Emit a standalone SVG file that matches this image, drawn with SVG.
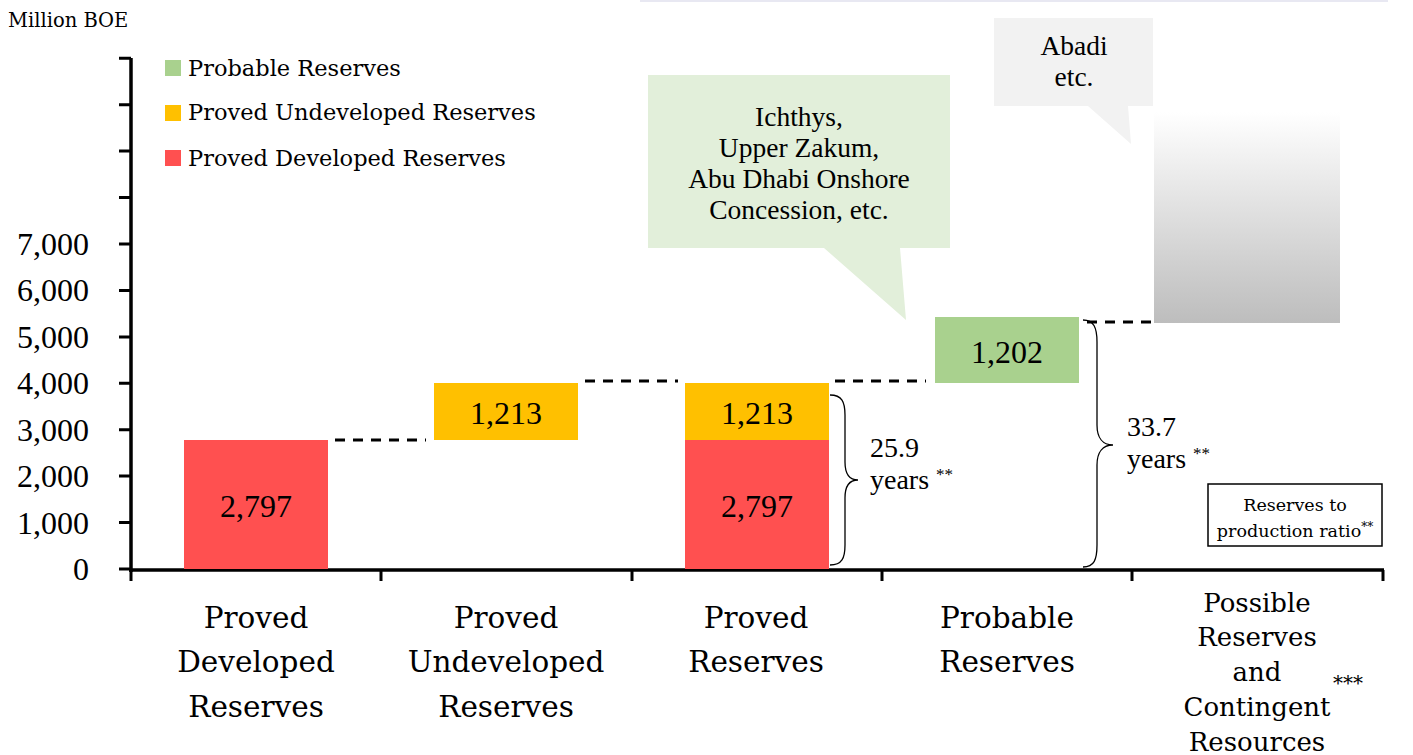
<svg xmlns="http://www.w3.org/2000/svg" width="1413" height="755" viewBox="0 0 1413 755">
<defs>
<linearGradient id="grayGrad" x1="0" y1="0" x2="0" y2="1">
<stop offset="0" stop-color="#ffffff"/>
<stop offset="1" stop-color="#bdbdbd"/>
</linearGradient>
<style>
.axis{stroke:#000;stroke-width:3.5;fill:none}
.tick{stroke:#000;stroke-width:3;fill:none}
.num{font-family:"Liberation Serif","Times New Roman",serif;font-size:32px;fill:#000}
.ylab{font-family:"Liberation Serif","Times New Roman",serif;font-size:32px;fill:#000;text-anchor:end}
.cat{font-family:"DejaVu Serif",serif;font-size:29.5px;fill:#000;text-anchor:middle}
.cat2{font-family:"DejaVu Serif",serif;font-size:26px;fill:#000;text-anchor:middle}
.leg{font-family:"DejaVu Serif",serif;font-size:22.5px;fill:#000}
.call{font-family:"Liberation Serif","Times New Roman",serif;font-size:27.5px;fill:#000;text-anchor:middle}
.yrs{font-family:"Liberation Serif","Times New Roman",serif;font-size:28px;fill:#000}
.box{font-family:"DejaVu Serif",serif;font-size:17.5px;fill:#000;text-anchor:middle}
.dash{stroke:#000;stroke-width:3;stroke-dasharray:10 8;fill:none}
.brace{stroke:#000;stroke-width:1.3;fill:none}
.red{fill:#ff5050}.yel{fill:#ffc000}.grn{fill:#a9d18e}
</style>
</defs>
<rect width="1413" height="755" fill="#ffffff"/>
<line x1="640" y1="1" x2="1388" y2="1" stroke="#e8e8f2" stroke-width="2"/>

<text x="8" y="27" font-family="DejaVu Serif, serif" font-size="19.5" fill="#000">Million BOE</text>

<g id="legend">
<rect class="grn" x="165" y="60" width="16" height="16"/>
<text class="leg" x="188" y="76">Probable Reserves</text>
<rect class="yel" x="165" y="105" width="16" height="16"/>
<text class="leg" x="188" y="120">Proved Undeveloped Reserves</text>
<rect class="red" x="165" y="150" width="16" height="16"/>
<text class="leg" x="188" y="166">Proved Developed Reserves</text>
</g>

<g id="axes">
<line class="axis" x1="131" y1="58" x2="131" y2="572"/>
<line class="axis" x1="129" y1="570" x2="1384" y2="570"/>
<path class="tick" d="M119,58.3H131M119,104.7H131M119,151.1H131M119,197.6H131M119,244H131M119,290.4H131M119,336.9H131M119,383.3H131M119,429.7H131M119,476.1H131M119,522.6H131M119,569H131"/>
<path class="tick" d="M131,570V581M381,570V581M632,570V581M882,570V581M1132,570V581M1383,570V581"/>
<text class="ylab" x="89" y="255">7,000</text>
<text class="ylab" x="89" y="301">6,000</text>
<text class="ylab" x="89" y="348">5,000</text>
<text class="ylab" x="89" y="394">4,000</text>
<text class="ylab" x="89" y="441">3,000</text>
<text class="ylab" x="89" y="487">2,000</text>
<text class="ylab" x="89" y="534">1,000</text>
<text class="ylab" x="89" y="580">0</text>
</g>

<g id="cat-labels">
<text class="cat" x="256" y="628">Proved</text>
<text class="cat" x="256" y="672">Developed</text>
<text class="cat" x="256" y="717">Reserves</text>
<text class="cat" x="506" y="628">Proved</text>
<text class="cat" x="506" y="672">Undeveloped</text>
<text class="cat" x="506" y="717">Reserves</text>
<text class="cat" x="756" y="628">Proved</text>
<text class="cat" x="756" y="672">Reserves</text>
<text class="cat" x="1007" y="628">Probable</text>
<text class="cat" x="1007" y="672">Reserves</text>
<text class="cat2" x="1257" y="612">Possible</text>
<text class="cat2" x="1257" y="646">Reserves</text>
<text class="cat2" x="1257" y="681">and</text>
<text class="cat2" x="1257" y="716">Contingent</text>
<text class="cat2" x="1257" y="751">Resources</text>
<text x="1333" y="690" font-family="DejaVu Serif, serif" font-size="20" fill="#000">***</text>
</g>

<g id="bar-proved-developed">
<rect class="red" x="184" y="440" width="144" height="129"/>
<text class="num" x="256" y="517" text-anchor="middle">2,797</text>
</g>
<g id="bar-proved-undeveloped">
<rect class="yel" x="434" y="383" width="144" height="57"/>
<text class="num" x="506" y="424" text-anchor="middle">1,213</text>
</g>
<g id="bar-proved-reserves">
<rect class="red" x="685" y="440" width="144" height="129"/>
<rect class="yel" x="685" y="383" width="144" height="57"/>
<text class="num" x="757" y="424" text-anchor="middle">1,213</text>
<text class="num" x="757" y="517" text-anchor="middle">2,797</text>
</g>
<g id="bar-probable">
<rect class="grn" x="935" y="317" width="144" height="66"/>
<text class="num" x="1007" y="363" text-anchor="middle">1,202</text>
</g>
<g id="bar-possible">
<rect x="1154" y="112" width="186" height="211" fill="url(#grayGrad)"/>
</g>

<g id="connectors">
<line class="dash" x1="335" y1="440" x2="426" y2="440"/>
<line class="dash" x1="585" y1="381" x2="678" y2="381"/>
<line class="dash" x1="835" y1="381" x2="926" y2="381"/>
<line class="dash" x1="1087" y1="322" x2="1152" y2="322"/>
</g>

<g id="callout-ichthys">
<path d="M648,75H950V248H900L906,320L824,248H648Z" fill="#e2efda"/>
<text class="call" x="799" y="126">Ichthys,</text>
<text class="call" x="799" y="157">Upper Zakum,</text>
<text class="call" x="799" y="188">Abu Dhabi Onshore</text>
<text class="call" x="799" y="219">Concession, etc.</text>
</g>

<g id="callout-abadi">
<path d="M994,18H1153V106H1128L1131,144L1088,106H994Z" fill="#f2f2f2"/>
<text class="call" x="1074" y="55">Abadi</text>
<text class="call" x="1074" y="86">etc.</text>
</g>

<g id="brace-proved">
<path class="brace" d="M830,395C842,395 845,402 845,415L845,462C845,474 850,480 858,480C850,480 845,486 845,498L845,545C845,558 842,565 830,565"/>
<text class="yrs" x="870" y="457">25.9</text>
<text class="yrs" x="870" y="489">years <tspan font-size="17" dy="-9">**</tspan></text>
</g>

<g id="brace-probable">
<path class="brace" d="M1083,320C1094,320 1097,328 1097,342L1097,425C1097,438 1103,445 1113,445C1103,445 1097,452 1097,465L1097,545C1097,560 1094,567 1083,567"/>
<text class="yrs" x="1127" y="436">33.7</text>
<text class="yrs" x="1127" y="468">years <tspan font-size="17" dy="-9">**</tspan></text>
</g>

<g id="rp-box">
<rect x="1208" y="484" width="174" height="62" fill="#ffffff" stroke="#000" stroke-width="1.5"/>
<text class="box" x="1295" y="511">Reserves to</text>
<text class="box" x="1295" y="537">production ratio<tspan font-size="12" dy="-6">**</tspan></text>
</g>
</svg>
